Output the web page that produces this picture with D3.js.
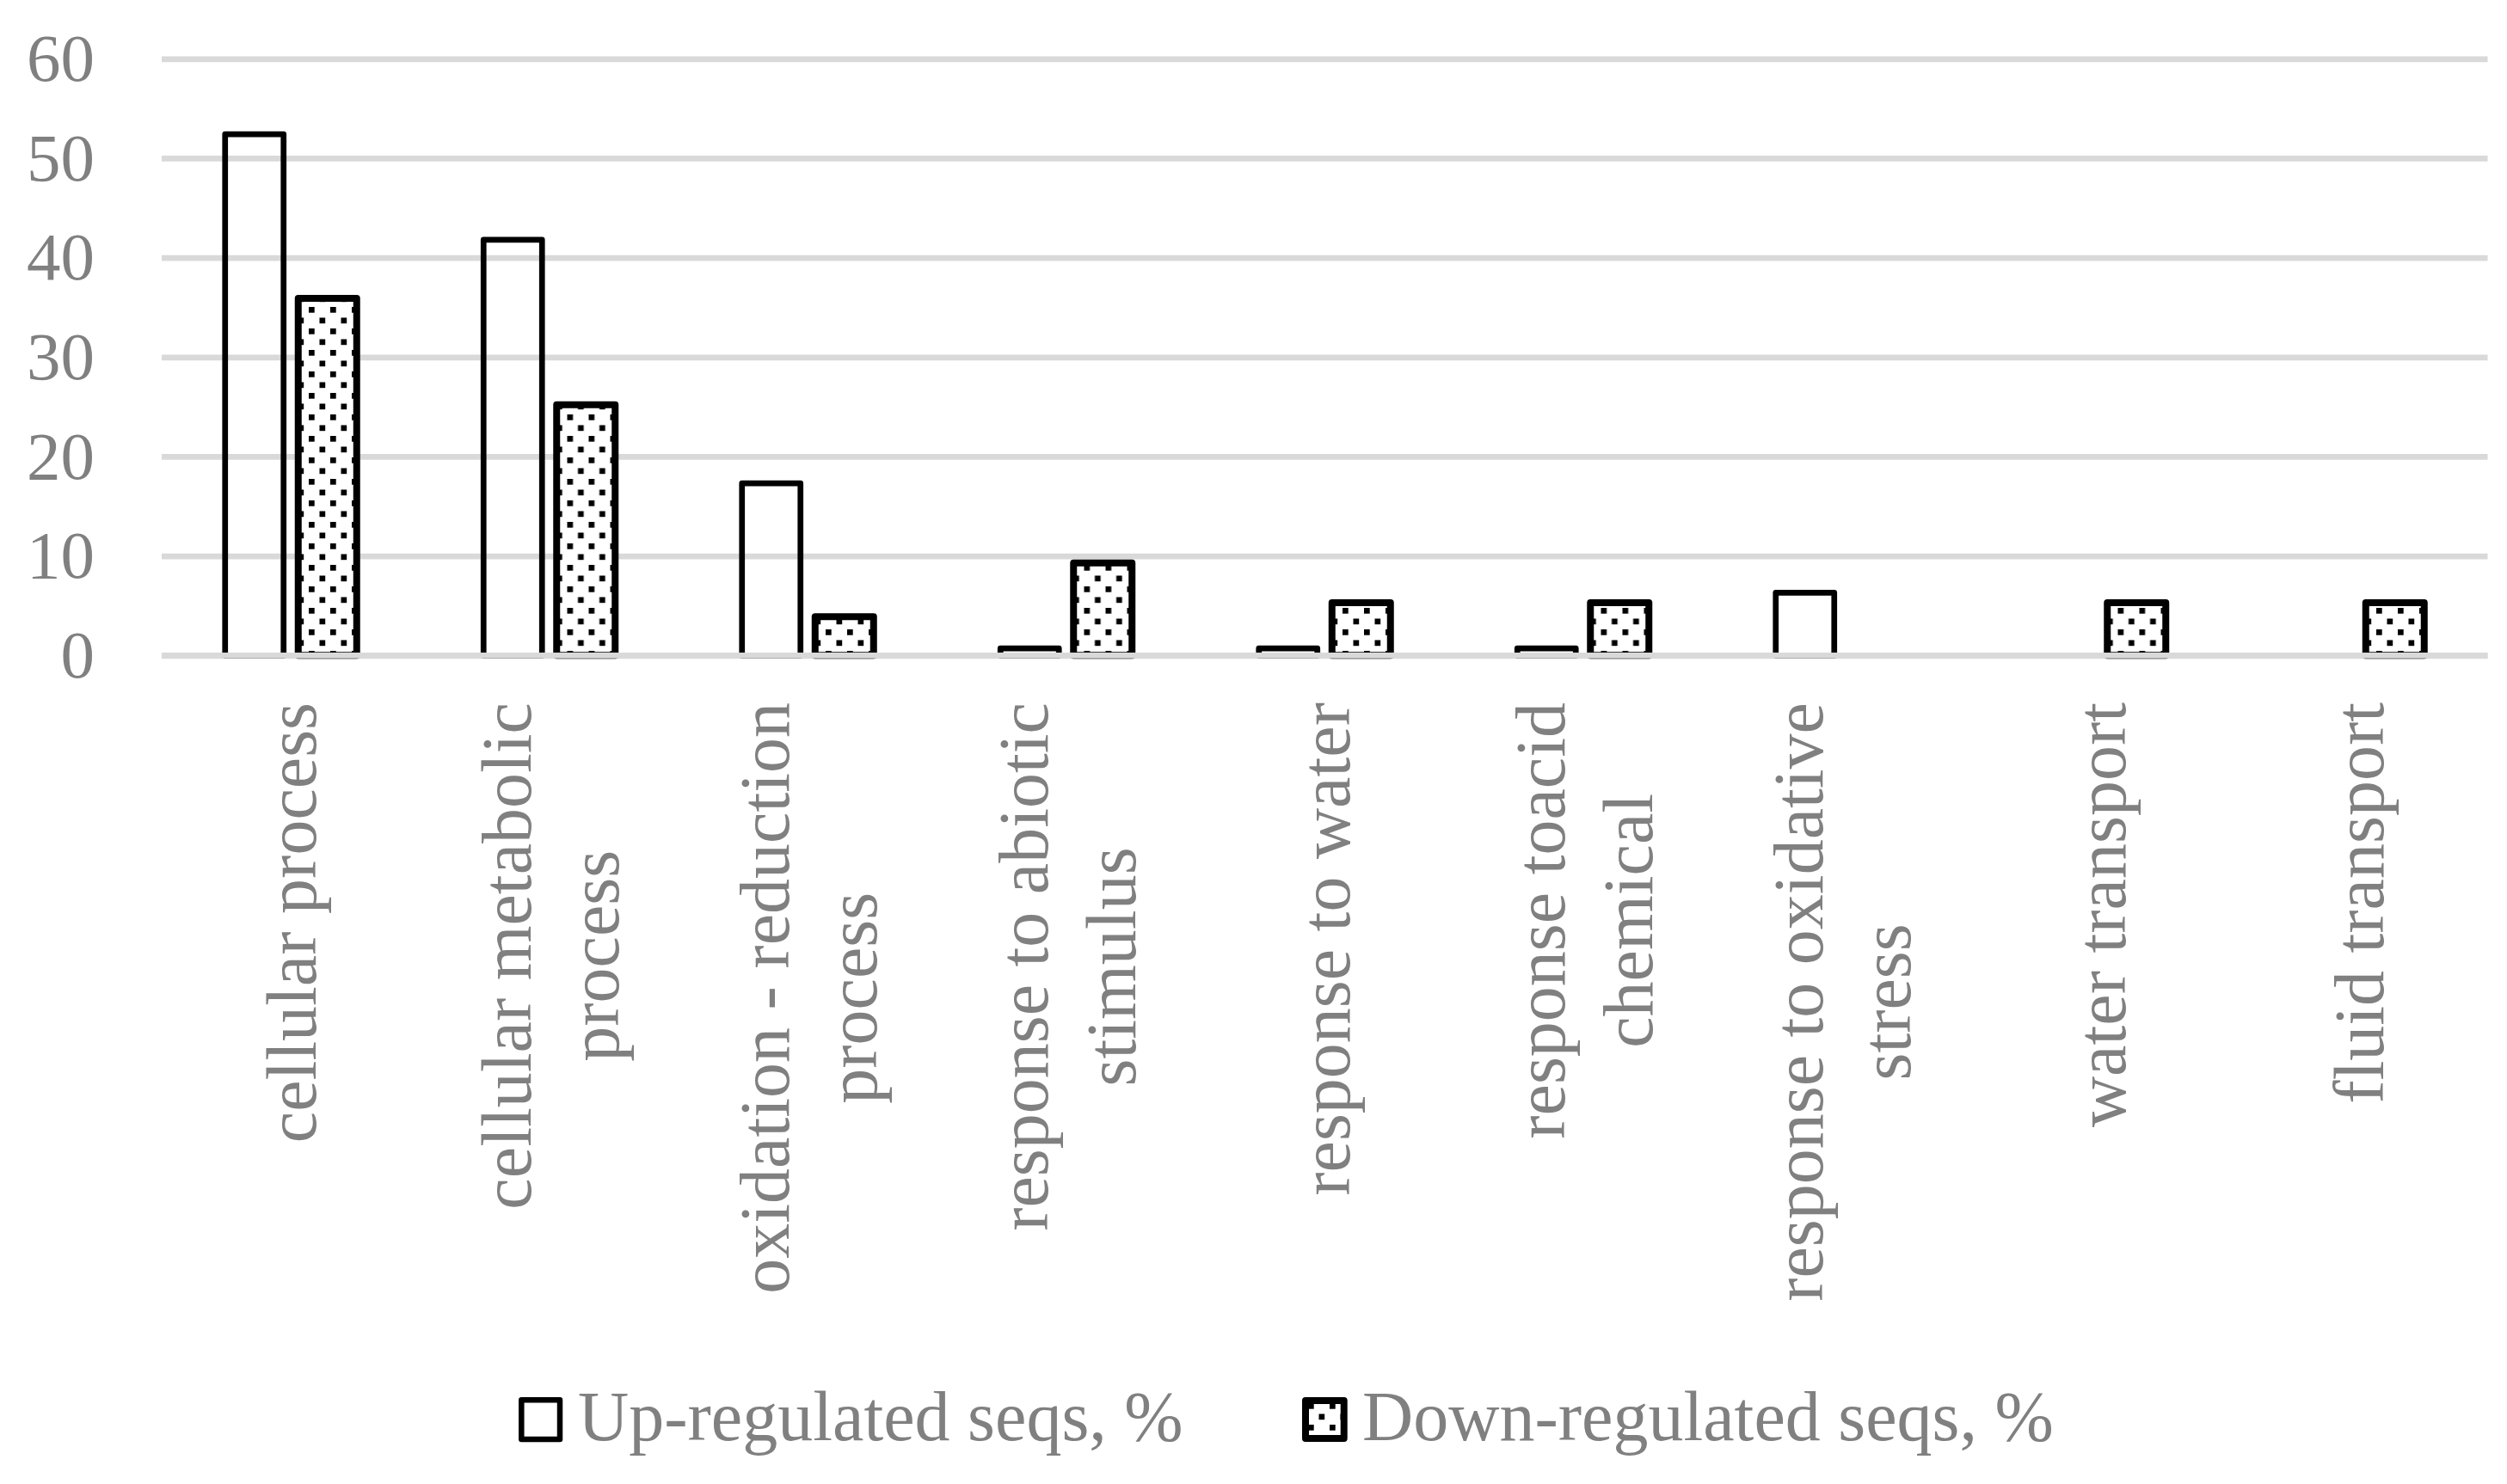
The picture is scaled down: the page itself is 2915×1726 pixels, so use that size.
<!DOCTYPE html>
<html>
<head>
<meta charset="utf-8">
<script src="https://cdn.jsdelivr.net/npm/d3@7"></script>
<style>
    body { margin: 0; background: #fff; }
    svg { display: block; }
    text { font-family: "Liberation Serif", "Times New Roman", serif; fill: #808080; }
</style>
</head>
<body>
<svg></svg>
<script>
var width = 2915;
var height = 1726;

// data
var categories = [
    "cellular process",
    "cellular metabolic process",
    "oxidation - reduction process",
    "response to abiotic stimulus",
    "response to water",
    "response toacid chemical",
    "response to oxidative stress",
    "water transport",
    "fluid transport"
];
// how each label wraps in the reference
var labelLines = [
    ["cellular process"],
    ["cellular metabolic", "process"],
    ["oxidation - reduction", "process"],
    ["response to abiotic", "stimulus"],
    ["response to water"],
    ["response toacid", "chemical"],
    ["response to oxidative", "stress"],
    ["water transport"],
    ["fluid transport"]
];
var upValues = [52.4, 41.8, 17.3, 0.7, 0.7, 0.7, 6.3, 0, 0];
var downValues = [35.9, 25.2, 3.9, 9.3, 5.3, 5.3, 0, 5.3, 5.3];
var seriesNames = ["Up-regulated seqs, %", "Down-regulated seqs, %"];
var yTicks = [0, 10, 20, 30, 40, 50, 60];

var margin = { left: 188, right: 22.5, top: 68.3, zero: 762.3 };
var tickFont = 79;
var labelFont = 82;

const svg = d3.select('svg')
    .attr('width', width)
    .attr('height', height);

svg.append('rect')
    .attr('width', width)
    .attr('height', height)
    .attr('fill', '#fff');

// dotted fill for the down-regulated series
var defs = svg.append('defs');
var pat = defs.append('pattern')
    .attr('id', 'dots')
    .attr('patternUnits', 'userSpaceOnUse')
    .attr('x', 21)
    .attr('y', 7)
    .attr('width', 25)
    .attr('height', 25);
pat.append('rect').attr('width', 25).attr('height', 25).attr('fill', '#fff');
pat.append('rect').attr('x', 0).attr('y', 0).attr('width', 6.7).attr('height', 6.7).attr('fill', '#000');
pat.append('rect').attr('x', 12.5).attr('y', 12.5).attr('width', 6.7).attr('height', 6.7).attr('fill', '#000');

var x0 = d3.scaleBand()
    .domain(categories)
    .range([margin.left, width - margin.right])
    .padding(0);

var bw = x0.bandwidth();
var x1 = d3.scaleBand()
    .domain(["up", "down"])
    .range([bw * 0.2454, bw * 0.7546])
    .paddingInner(0.2)
    .paddingOuter(0);

var y = d3.scaleLinear()
    .domain([0, 60])
    .range([margin.zero, margin.top]);

// gridlines
var grid = svg.append('g')
    .attr('transform', `translate(${margin.left},0)`)
    .call(d3.axisLeft(y).tickValues(yTicks).tickSize(-(width - margin.right - margin.left)).tickFormat(''));
grid.select('.domain').remove();
grid.selectAll('line')
    .attr('stroke', '#d9d9d9')
    .attr('stroke-width', 6.7);

// y tick labels
var yAxis = svg.append('g')
    .attr('transform', `translate(${margin.left},0)`)
    .call(d3.axisLeft(y).tickValues(yTicks).tickSize(0).tickPadding(78));
yAxis.select('.domain').remove();
yAxis.selectAll('text')
    .attr('font-size', tickFont)
    .attr('font-family', '"Liberation Serif", serif')
    .attr('fill', '#808080');

var rows = categories.map(function(c, i) {
    return { cat: c, up: upValues[i], down: downValues[i] };
});

var groups = svg.selectAll('g.cat')
    .data(rows)
    .enter().append('g')
    .attr('class', 'cat')
    .attr('transform', d => `translate(${x0(d.cat)},0)`);

groups.filter(d => d.up > 0).append('rect')
    .attr('x', x1('up'))
    .attr('width', x1.bandwidth())
    .attr('y', d => y(d.up))
    .attr('height', d => y(0) - y(d.up))
    .attr('fill', 'none')
    .attr('stroke', '#000')
    .attr('stroke-width', 6.7)
    .attr('stroke-linejoin', 'round');

groups.filter(d => d.down > 0).append('rect')
    .attr('x', x1('down'))
    .attr('width', x1.bandwidth())
    .attr('y', d => y(d.down))
    .attr('height', d => y(0) - y(d.down))
    .attr('fill', 'url(#dots)')
    .attr('stroke', '#000')
    .attr('stroke-width', 8)
    .attr('stroke-linejoin', 'round');

// category axis line drawn over the bar bottoms
svg.append('line')
    .attr('x1', margin.left)
    .attr('x2', width - margin.right)
    .attr('y1', y(0))
    .attr('y2', y(0))
    .attr('stroke', '#d9d9d9')
    .attr('stroke-width', 6.7);

// rotated category labels, block top aligned, lines centred
var labelTop = 817;
var lineGap = 101.6;
categories.forEach(function(c, i) {
    var cx = x0(c) + bw / 2;
    var g = svg.append('g')
        .attr('transform', `translate(${cx},${labelTop}) rotate(-90)`);
    var lines = labelLines[i];
    var texts = lines.map(function(t, j) {
        return g.append('text')
            .attr('font-size', labelFont)
            .attr('text-anchor', 'middle')
            .attr('y', 29 + (j - (lines.length - 1) / 2) * lineGap)
            .text(t);
    });
    var maxLen = d3.max(texts, t => t.node().getComputedTextLength());
    texts.forEach(t => t.attr('x', -maxLen / 2));
});

// legend
var legend = svg.append('g');
legend.append('rect')
    .attr('x', 606.3).attr('y', 1628.3)
    .attr('width', 44.7).attr('height', 45.7)
    .attr('fill', '#fff')
    .attr('stroke', '#000')
    .attr('stroke-width', 6.5)
    .attr('stroke-linejoin', 'round');
legend.append('text')
    .attr('x', 672).attr('y', 1675)
    .attr('font-size', labelFont)
    .text(seriesNames[0]);
legend.append('rect')
    .attr('x', 1518).attr('y', 1629)
    .attr('width', 44.7).attr('height', 44)
    .attr('fill', 'url(#dots)')
    .attr('stroke', '#000')
    .attr('stroke-width', 8)
    .attr('stroke-linejoin', 'round');
legend.append('text')
    .attr('x', 1584).attr('y', 1675)
    .attr('font-size', labelFont)
    .text(seriesNames[1]);
</script>
</body>
</html>
